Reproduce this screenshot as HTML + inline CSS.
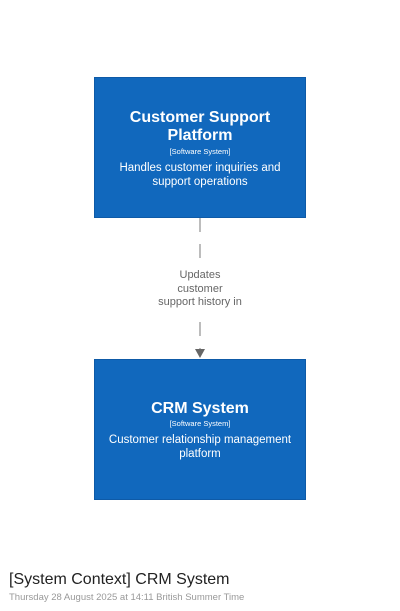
<!DOCTYPE html>
<html><head><style>
body{margin:0;width:400px;height:611px;background:#fff;position:relative;font-family:"Liberation Sans",sans-serif;overflow:hidden}
.b{position:absolute;left:94px;width:212px;height:141px;background:#1168bd;border:1px solid #0e5aa7;box-sizing:border-box;color:#fff;text-align:center}
.t{position:absolute;width:100%;font-weight:bold;font-size:16px;line-height:18px}
.s{position:absolute;width:100%;font-size:7.5px;line-height:9px}
.d{position:absolute;width:100%;font-size:11.5px;line-height:14px}
.l{position:absolute;left:120px;width:160px;text-align:center;color:#666;font-size:11px;line-height:13.5px;background:#fff}
</style></head><body>
<svg style="position:absolute;left:0;top:0" width="400" height="611">
<line x1="200" y1="218" x2="200" y2="350" stroke="#999" stroke-width="1.3" stroke-dasharray="14,12"/>
<polygon points="195,349 205,349 200,358" fill="#666"/>
</svg>
<div class="b" style="top:77px">
<div class="t" style="top:31px">Customer Support<br>Platform</div>
<div class="s" style="top:69px">[Software System]</div>
<div class="d" style="top:83px">Handles customer inquiries and<br>support operations</div>
</div>
<div class="l" style="top:269px">Updates<br>customer<br>support history in</div>
<div class="b" style="top:359px">
<div class="t" style="top:40px">CRM System</div>
<div class="s" style="top:59px">[Software System]</div>
<div class="d" style="top:73px">Customer relationship management<br>platform</div>
</div>
<div style="position:absolute;left:9px;top:571px;font-size:16px;color:#222">[System Context] CRM System</div>
<div style="position:absolute;left:9px;top:592px;font-size:9.5px;color:#999">Thursday 28 August 2025 at 14:11 British Summer Time</div>
</body></html>
